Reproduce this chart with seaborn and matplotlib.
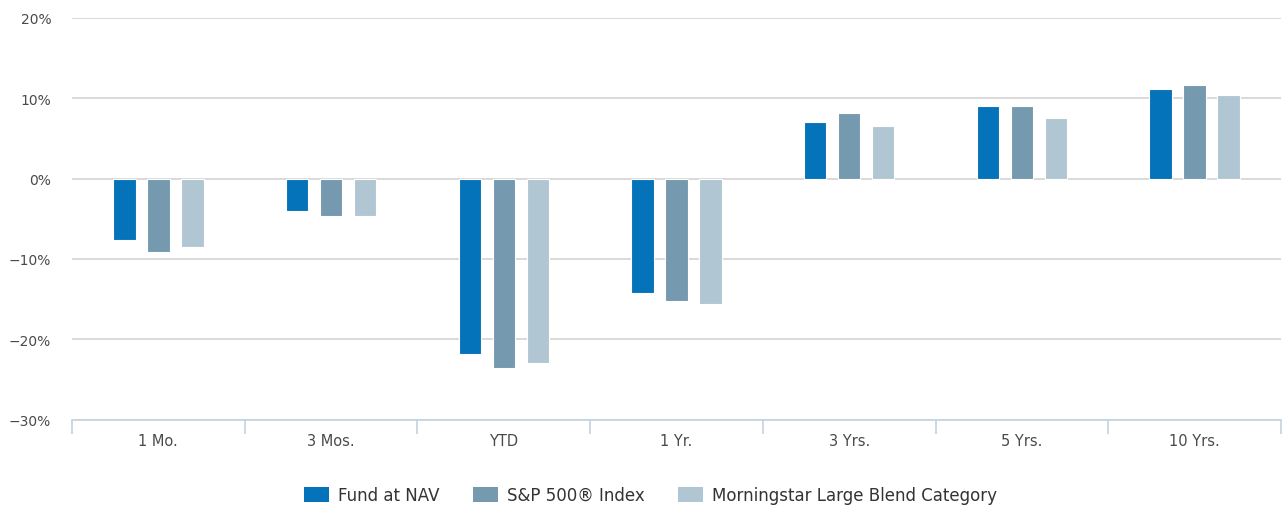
import matplotlib
matplotlib.use("Agg")
import matplotlib.pyplot as plt
import matplotlib.ticker as mticker
from matplotlib.patches import Patch
import numpy as np
import pandas as pd
import seaborn as sns

periods = ["1 Mo.", "3 Mos.", "YTD", "1 Yr.", "3 Yrs.", "5 Yrs.", "10 Yrs."]
series_names = ["Fund at NAV", "S&P 500® Index", "Morningstar Large Blend Category"]
fund_nav = [-7.7, -4.0, -21.9, -14.3, 7.1, 9.1, 11.2]
sp500 = [-9.1, -4.7, -23.6, -15.3, 8.2, 9.1, 11.7]
morningstar = [-8.5, -4.7, -23.0, -15.6, 6.6, 7.6, 10.4]
colors = ["#0573b9", "#7599ae", "#b0c6d2"]
y_ticks = [-30, -20, -10, 0, 10, 20]

df = pd.DataFrame({
    "period": periods * 3,
    "series": [series_names[0]] * 7 + [series_names[1]] * 7 + [series_names[2]] * 7,
    "value": fund_nav + sp500 + morningstar,
})

sns.set_theme(style="white")
plt.rcParams["font.family"] = ["DejaVu Sans"]
text_color = "#4a4a4a"
axis_blue = "#c4d2e0"

fig = plt.figure(figsize=(12.82, 5.06), dpi=100)
ax = fig.add_axes([72 / 1282, 1 - 420.5 / 506, 1209 / 1282, 401.5 / 506])

sns.barplot(data=df, x="period", y="value", hue="series", order=periods,
            hue_order=series_names, palette=colors, width=0.59, gap=0.34,
            edgecolor="white", linewidth=0.8, saturation=1, legend=False,
            errorbar=None, ax=ax, zorder=3)

ax.set_ylim(-30, 20)
ax.set_xlim(-0.5, len(periods) - 0.5)
ax.set_yticks(y_ticks)
ax.yaxis.set_major_formatter(mticker.FuncFormatter(
    lambda v, p: f"{int(v)}%".replace("-", "\u2212")))
ax.yaxis.grid(True, color="#d3d3d3", linewidth=1.2, zorder=0)
ax.set_axisbelow(True)

for side in ["top", "right", "left"]:
    ax.spines[side].set_visible(False)
ax.spines["bottom"].set_color(axis_blue)
ax.spines["bottom"].set_linewidth(1.2)
ax.spines["bottom"].set_zorder(4)

ax.tick_params(axis="y", length=0, labelsize=10, labelcolor=text_color, pad=15)
ax.tick_params(axis="x", which="major", length=0, labelsize=10.5,
               labelcolor=text_color, pad=10)
# category dividers hanging below the baseline
ax.set_xticks(np.arange(-0.5, len(periods)), minor=True)
ax.tick_params(axis="x", which="minor", bottom=True, length=10, width=1.2,
               color=axis_blue, direction="out")
ax.set_xlabel("")
ax.set_ylabel("")

handles = [Patch(facecolor=c, edgecolor="none", label=n)
           for c, n in zip(colors, series_names)]
fig.legend(handles=handles, loc="center", bbox_to_anchor=(0.5074, 1 - 496 / 506),
           ncol=3, frameon=False, fontsize=12, handlelength=1.5,
           handleheight=1.0, handletextpad=0.55, columnspacing=2.0,
           labelcolor="#333333")

fig.savefig("out.png", dpi=100, facecolor="white")
